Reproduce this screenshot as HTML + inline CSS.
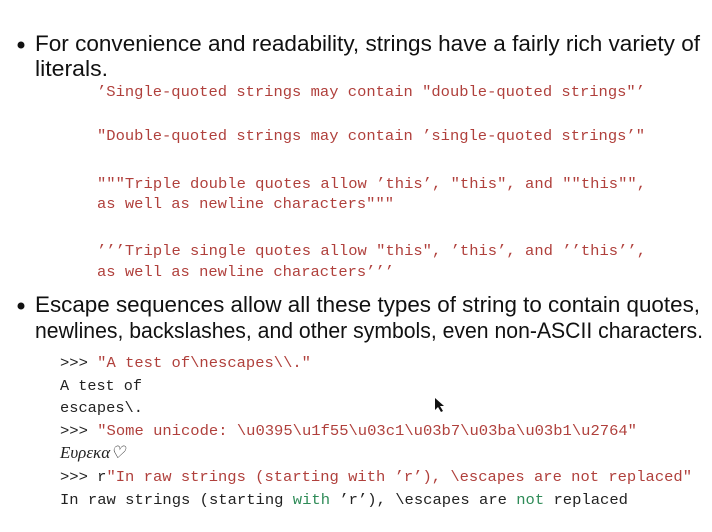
<!DOCTYPE html>
<html><head><meta charset="utf-8"><style>
html,body{margin:0;padding:0;background:#fff;}
svg{display:block;}
.s{font-family:"Liberation Sans",sans-serif;font-size:22px;fill:#111;}
.m{font-family:"Liberation Mono",monospace;font-size:15px;fill:#222;}
.r{fill:#b0403c;}
.g{fill:#2e8b57;}
</style></head><body>
<svg width="712" height="532" viewBox="0 0 712 532" xmlns="http://www.w3.org/2000/svg">
<circle cx="21" cy="45" r="3.5" fill="#111"/>
<text class="s" x="35" y="51" textLength="665" lengthAdjust="spacingAndGlyphs">For convenience and readability, strings have a fairly rich variety of</text>
<text class="s" x="35" y="76" textLength="73" lengthAdjust="spacingAndGlyphs">literals.</text>
<text class="m r" x="97" y="96" textLength="548" lengthAdjust="spacingAndGlyphs">’Single-quoted strings may contain "double-quoted strings"’</text>
<text class="m r" x="97" y="140" textLength="548" lengthAdjust="spacingAndGlyphs">"Double-quoted strings may contain ’single-quoted strings’"</text>
<text class="m r" x="97" y="188" textLength="549" lengthAdjust="spacingAndGlyphs">"""Triple double quotes allow ’this’, "this", and ""this"",</text>
<text class="m r" x="97" y="208" textLength="297" lengthAdjust="spacingAndGlyphs">as well as newline characters"""</text>
<text class="m r" x="97" y="255" textLength="549" lengthAdjust="spacingAndGlyphs">’’’Triple single quotes allow "this", ’this’, and ’’this’’,</text>
<text class="m r" x="97" y="276" textLength="297" lengthAdjust="spacingAndGlyphs">as well as newline characters’’’</text>
<circle cx="21" cy="306" r="3.5" fill="#111"/>
<text class="s" x="35" y="312" textLength="665" lengthAdjust="spacingAndGlyphs">Escape sequences allow all these types of string to contain quotes,</text>
<text class="s" x="35" y="338" textLength="668" lengthAdjust="spacingAndGlyphs">newlines, backslashes, and other symbols, even non-ASCII characters.</text>
<text class="m" x="60" y="367" textLength="251" lengthAdjust="spacingAndGlyphs">&gt;&gt;&gt; <tspan class="r">"A test of\nescapes\\."</tspan></text>
<text class="m" x="60" y="390" textLength="82" lengthAdjust="spacingAndGlyphs">A test of</text>
<text class="m" x="60" y="412" textLength="83" lengthAdjust="spacingAndGlyphs">escapes\.</text>
<text class="m" x="60" y="435" textLength="577" lengthAdjust="spacingAndGlyphs">&gt;&gt;&gt; <tspan class="r">"Some unicode: \u0395\u1f55\u03c1\u03b7\u03ba\u03b1\u2764"</tspan></text>
<text x="60" y="458" style="font-family:'Liberation Serif',serif;font-size:17px;font-style:italic;fill:#222">Ευρεκα♡</text>
<text class="m" x="60" y="481" textLength="632" lengthAdjust="spacingAndGlyphs">&gt;&gt;&gt; r<tspan class="r">"In raw strings (starting with ’r’), \escapes are not replaced"</tspan></text>
<text class="m" x="60" y="504" textLength="568" lengthAdjust="spacingAndGlyphs">In raw strings (starting <tspan class="g">with</tspan> ’r’), \escapes are <tspan class="g">not</tspan> replaced</text>
<polygon points="435,398 435,410 438,407 441,412 443,411 440,406 444,406" fill="#111"/>
</svg>
</body></html>
